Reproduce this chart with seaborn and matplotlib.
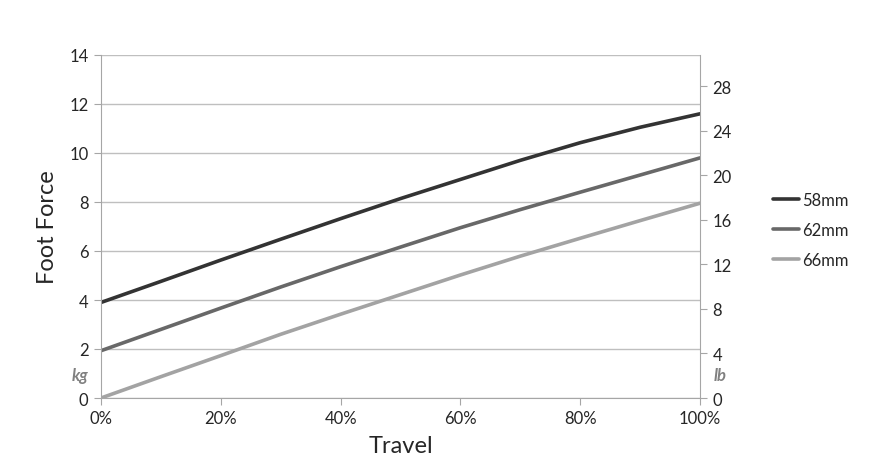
import pandas as pd
import matplotlib.pyplot as plt
import matplotlib.transforms as mtransforms
import seaborn as sns

# values (kg), every 10% of travel
travel = [0, 10, 20, 30, 40, 50, 60, 70, 80, 90, 100]
force_58 = [3.9, 4.76, 5.63, 6.48, 7.32, 8.14, 8.92, 9.70, 10.42, 11.05, 11.6]
force_62 = [1.93, 2.80, 3.67, 4.53, 5.36, 6.16, 6.95, 7.69, 8.40, 9.10, 9.80]
force_66 = [0.0, 0.87, 1.73, 2.60, 3.42, 4.22, 5.02, 5.79, 6.52, 7.24, 7.95]
sizes = ["58mm", "62mm", "66mm"]
kg_ticks = [0, 2, 4, 6, 8, 10, 12, 14]
lb_ticks = [0, 4, 8, 12, 16, 20, 24, 28]
x_ticks = [0, 20, 40, 60, 80, 100]
x_labels = ["0%", "20%", "40%", "60%", "80%", "100%"]

df = pd.DataFrame({
    "Travel": travel * 3,
    "Force": force_58 + force_62 + force_66,
    "Size": [s for s in sizes for _ in travel],
})

sns.set_style("white")
plt.rcParams["font.family"] = ["Lato", "DejaVu Sans"]

grid_c = "#bfbfbf"
axis_c = "#a6a6a6"

fig, ax = plt.subplots(figsize=(8.92, 4.77), dpi=100)
fig.subplots_adjust(left=101 / 892, right=700 / 892, bottom=1 - 399 / 477, top=1 - 56 / 477)

sns.lineplot(data=df, x="Travel", y="Force", hue="Size",
             palette=["#333333", "#686868", "#a3a3a3"], linewidth=2.6, ax=ax)

ax.set_xlim(0, 100)
ax.set_ylim(0, 14)
ax.set_xticks(x_ticks)
ax.set_xticklabels(x_labels)
ax.set_yticks(kg_ticks)
ax.yaxis.grid(True, color=grid_c, linewidth=1)
ax.xaxis.grid(False)
ax.tick_params(axis="both", labelsize=12, length=5, color=axis_c, direction="out",
               left=True, bottom=True, pad=4)
for side in ["top", "right"]:
    ax.spines[side].set_visible(False)
for side in ["left", "bottom"]:
    ax.spines[side].set_color(axis_c)
ax.set_xlabel("Travel", fontsize=17, labelpad=6)
ax.set_ylabel("Foot Force", fontsize=17, labelpad=8)

ax2 = ax.twinx()
ax2.set_ylim(0, 14 * 2.2)
ax2.set_yticks(lb_ticks)
ax2.tick_params(axis="y", labelsize=12, length=5, color=axis_c, direction="out", right=True, pad=4)
for side in ["top", "left", "bottom"]:
    ax2.spines[side].set_visible(False)
ax2.spines["right"].set_color(axis_c)

trans = mtransforms.blended_transform_factory(ax.transAxes, ax.transData)
ax.text(-0.035, 0.95, "kg", transform=trans, ha="center", va="center",
        fontsize=12, fontweight="bold", fontstyle="italic", color="#808080")
ax.text(1.033, 0.95, "lb", transform=trans, ha="center", va="center",
        fontsize=12, fontweight="bold", fontstyle="italic", color="#808080")

handles, labels = ax.get_legend_handles_labels()
ax.legend(handles, labels, loc="center left", bbox_to_anchor=(1.096, 0.49),
          frameon=False, fontsize=12, handlelength=1.6, handletextpad=0.15,
          labelspacing=0.84)

plt.savefig("out.png", dpi=100)
